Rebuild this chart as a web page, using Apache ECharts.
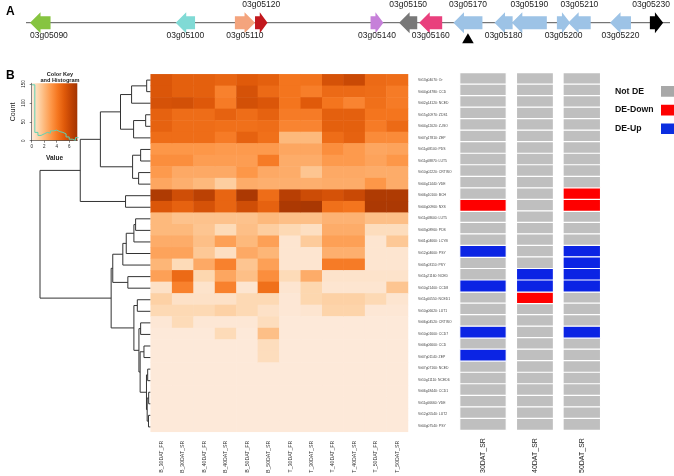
<!DOCTYPE html>
<html><head><meta charset="utf-8">
<script src="https://cdn.jsdelivr.net/npm/echarts@6/dist/echarts.min.js"></script>
<style>html,body{margin:0;padding:0;background:#fff}#c{width:674px;height:476px}</style>
</head><body><div id="c"></div>
<script>
// ---------- Panel A: gene map ----------
const geneNames  = ['03g05090','03g05100','03g05110','03g05120','03g05140','03g05150','03g05160','03g05170','03g05180','03g05190','03g05200','03g05210','03g05220','03g05230'];
const geneStart  = [1.0, 37.2, 51.9, 56.9, 85.6, 92.7, 97.7, 106.2, 116.4, 120.7, 131.9, 134.7, 145.1, 155.0];
const geneEnd    = [6.1, 42.0, 56.9, 60.0, 88.8, 97.2, 103.4, 113.4, 120.9, 129.4, 135.2, 140.3, 150.3, 158.3];
const geneStrand = [-1,-1, 1, 1, 1,-1,-1,-1,-1,-1, 1,-1,-1, 1];
const geneLabelSide = [-1,-1,-1, 1,-1, 1,-1, 1,-1, 1,-1, 1,-1, 1];
const geneMarker = [0,0,0,0,0,0,0,1,0,0,0,0,0,0];
const geneColors = ['#86c440','#80dad5','#f4a47d','#c2181d','#c680d9','#787878','#e9407d','#9dc3e6','#9dc3e6','#9dc3e6','#9dc3e6','#9dc3e6','#9dc3e6','#000000'];
const regionLength = 160;

// ---------- Panel B: heatmap ----------
const rowIds = ['Vit13g04070','Vit04g04780','Vit02g14120','Vit15g10970','Vit04g12020','Vit07g17810','Vit11g08100','Vit11g08870','Vit10g02220','Vit04g11440','Vit06g10100','Vit04g00960','Vit11g08600','Vit03g08960','Vit01g04660','Vit12g04600','Vit05g03110','Vit11g21160','Vit10g21400','Vit11g00550','Vit10g06620','Vit06g04520','Vit10g01600','Vit06g06600','Vit07g01140','Vit07g07160','Vit10g11110','Vit06g18440','Vit11g06660','Vit12g05540','Vit04g07540'];
const rowGenes = ['Or','CCD','NCED','ZDS1','Z-ISO','ZEP','PDS','LUT5','CRTISO','VDE','BCH','NXS','LUT5','PDS','LCYB','PSY','PSY','NCED','CCD8','NCED1','LUT1','CRTISO','CCD7','CCD','ZEP','NCED','NCED6','CCD1','VDE','LUT2','PSY'];
const colLabels = ['B_30DAT_FR','B_30DAT_SR','B_40DAT_FR','B_40DAT_SR','B_50DAT_FR','B_50DAT_SR','T_30DAT_FR','T_30DAT_SR','T_40DAT_FR','T_40DAT_SR','T_50DAT_FR','T_50DAT_SR'];

const v_B_30DAT_FR = [5.4,5.4,5.6,4.9,4.9,4.5,3.1,3.4,3.0,2.6,6.9,5.4,2.0,2.0,2.4,2.7,2.1,2.8,0.5,1.2,0.9,0.2,0.1,0.1,0.1,0.1,0.1,0.1,0.1,0.1,0.1];
const v_B_30DAT_SR = [5.0,5.0,5.7,4.5,4.5,4.5,3.1,3.4,2.5,2.3,5.8,4.9,1.7,2.0,2.4,2.7,0.8,4.6,3.8,0.5,0.9,0.8,0.1,0.1,0.1,0.1,0.1,0.1,0.1,0.1,0.1];
const v_B_40DAT_FR = [5.0,5.0,5.3,4.5,4.5,4.5,3.1,2.9,2.5,2.0,6.5,5.6,1.7,1.6,1.8,1.5,2.5,1.0,0.4,0.5,0.9,0.2,0.1,0.1,0.1,0.1,0.1,0.1,0.1,0.1,0.1];
const v_B_40DAT_SR = [4.8,3.8,4.0,4.9,4.4,4.0,3.0,2.9,2.5,1.3,4.8,4.8,1.7,0.8,2.8,0.6,3.8,2.6,3.8,0.5,1.2,0.2,0.8,0.1,0.1,0.1,0.1,0.1,0.1,0.1,0.1];
const v_B_50DAT_FR = [5.2,5.6,5.7,4.5,4.4,4.9,3.0,2.9,3.1,2.4,7.0,5.8,1.7,1.8,2.0,2.5,1.6,1.8,0.3,0.9,0.9,0.2,0.1,0.1,0.1,0.1,0.1,0.1,0.1,0.1,0.1];
const v_B_50DAT_SR = [5.0,4.6,5.4,4.9,4.5,4.4,3.0,4.0,2.5,2.3,4.5,4.9,2.0,1.3,2.8,2.1,2.8,3.4,4.4,0.9,0.5,0.7,1.8,0.7,0.7,0.1,0.1,0.1,0.1,0.1,0.1];
const v_T_30DAT_FR = [4.2,4.2,4.2,4.0,3.7,2.0,2.6,2.4,2.4,2.3,6.6,7.0,1.8,0.9,0.3,0.3,0.3,0.8,0.3,0.2,0.2,0.1,0.1,0.1,0.1,0.1,0.1,0.1,0.1,0.1,0.1];
const v_T_30DAT_SR = [4.3,3.9,5.2,4.0,3.7,2.0,2.6,2.4,1.6,2.3,5.9,7.1,1.8,0.6,1.4,0.3,0.3,2.4,1.0,1.0,0.3,0.1,0.1,0.1,0.1,0.1,0.1,0.1,0.1,0.1,0.1];
const v_T_40DAT_FR = [5.6,4.6,4.2,5.0,5.0,4.5,3.4,3.0,2.5,2.4,5.6,4.4,2.2,2.4,2.8,2.3,4.0,0.4,0.3,1.2,1.1,0.1,0.1,0.1,0.1,0.1,0.1,0.1,0.1,0.1,0.1];
const v_T_40DAT_SR = [6.0,4.6,3.7,5.0,5.0,4.9,3.0,3.0,2.5,2.4,6.0,4.2,2.2,2.4,2.8,2.3,4.0,0.4,0.3,1.2,1.1,0.1,0.1,0.1,0.1,0.1,0.1,0.1,0.1,0.1,0.1];
const v_T_50DAT_FR = [4.6,4.5,4.4,4.2,4.0,3.5,2.6,2.7,2.4,3.1,6.9,7.0,1.8,0.7,0.3,0.3,0.3,0.4,0.3,0.9,0.2,0.1,0.1,0.1,0.1,0.1,0.1,0.1,0.1,0.1,0.1];
const v_T_50DAT_SR = [4.5,4.0,4.0,4.2,4.6,3.5,2.7,3.1,2.4,2.4,6.9,7.0,1.8,0.7,1.5,0.3,0.3,0.4,1.6,0.3,0.2,0.1,0.1,0.1,0.1,0.1,0.1,0.1,0.1,0.1,0.1];
const heatColumns = [v_B_30DAT_FR,v_B_30DAT_SR,v_B_40DAT_FR,v_B_40DAT_SR,v_B_50DAT_FR,v_B_50DAT_SR,v_T_30DAT_FR,v_T_30DAT_SR,v_T_40DAT_FR,v_T_40DAT_SR,v_T_50DAT_FR,v_T_50DAT_SR];
const heatMin = 0, heatMax = 7.3;
const heatColors = ['#fdebde','#fdd6ad','#fdb678','#fd9647','#f5761f','#e05a0a','#c24404','#a33503'];

// Row dendrogram (hclust-style merges: negative = leaf row, positive = earlier merge; height)
const dendroMerge = [
  [-1,-2,4],[1,-3,19],[-4,-5,5],[3,-6,17],[2,4,30],
  [-7,-8,10],[-9,-10,12],[6,7,18],[5,8,50],[-11,-12,25],[9,10,70],
  [-13,-14,15],[12,-15,16.7],[13,-16,24.3],[14,-17,27.7],[-18,-19,22.7],[15,16,37.7],
  [-20,-21,13.3],[-22,-23,10],[-24,-25,6.7],[-26,-27,3],[-28,-29,2],[-30,-31,2.2],
  [22,23,3.5],[21,24,4.2],[20,25,10.5],[19,26,11.7],[18,27,16.7],[17,28,39.3],[11,29,110]
];
const dendroMaxHeight = 110;

// Color key histogram
const histBreaks = [0,0.5,1,1.5,2,2.5,3,3.5,4,4.5,5,5.5,6,6.5,7,7.5];
const histCounts = [148,22,14,18,22,20,26,28,24,22,18,10,4,1,8];

// DE panel
const deCols = ['30DAT_SR','40DAT_SR','50DAT_SR'];
const de30 = [0,0,0,0,0,0,0,0,0,0,0,-1,0,0,0,1,0,0,1,0,0,0,1,0,1,0,0,0,0,0,0];
const de40 = [0,0,0,0,0,0,0,0,0,0,0,0,0,0,0,0,0,1,1,-1,0,0,0,0,0,0,0,0,0,0,0];
const de50 = [0,0,0,0,0,0,0,0,0,0,-1,-1,0,0,0,1,1,1,1,0,0,0,1,0,0,0,0,0,0,0,0];
const deClasses = [0,-1,1];
const deNames = ['Not DE','DE-Down','DE-Up'];
const deColors = ['#bfbfbf','#fe0000','#0b24e4'];
const deLegendColors = ['#a8a8a8','#fe0000','#0b2ee0'];

// ---------- build ----------
const FONT = 'Liberation Sans, Arial, Helvetica, sans-serif';
const rowLabels = rowIds.map((id,i)=>id+': '+rowGenes[i]);

const geneData = geneNames.map((n,i)=>({name:n, value:[geneStart[i],geneEnd[i],geneStrand[i],geneLabelSide[i],geneMarker[i]]}));

const heatData = [];
heatColumns.forEach((col,c)=>col.forEach((v,r)=>heatData.push([c,r,v])));

const nodePos = [];
const dendroSegs = [];
function nodeAt(id){ return id<0 ? [0, (-id-1)+0.5] : nodePos[id-1]; }
dendroMerge.forEach(([a,b,h])=>{
  const A=nodeAt(a), B=nodeAt(b);
  dendroSegs.push({coords:[[A[0],A[1]],[h,A[1]],[h,B[1]],[B[0],B[1]]]});
  nodePos.push([h,(A[1]+B[1])/2]);
});

const histData = histBreaks.map((b,i)=>[b, histCounts[Math.min(i,histCounts.length-1)]]);

const hmTop = 74.3, hmH = 358.4;
const deTop = 72.8, deH = 360.6;
const deGrids = [[460,46],[516.7,36.5],[563.3,37]];

const grids = [
  {left:26, width:644, top:12, height:21.4},
  {left:31.7, width:45.6, top:83.3, height:57.4, show:true, borderWidth:0,
   backgroundColor:{type:'linear',x:0,y:0,x2:1,y2:0,colorStops:heatColors.map((c,i)=>({offset:i/(heatColors.length-1),color:c}))}},
  {left:40, width:110.7, top:hmTop, height:hmH},
  {left:150.7, width:257.3, top:hmTop, height:hmH}
];
deGrids.forEach(g=>grids.push({left:g[0], width:g[1], top:deTop, height:deH}));

const xAxes = [
  {gridIndex:0, type:'value', min:0, max:regionLength, show:false},
  {gridIndex:1, type:'value', min:heatMin, max:heatMax, interval:2, name:'Value', nameLocation:'middle', nameGap:14,
   nameTextStyle:{fontSize:6.5, fontWeight:'bold', color:'#222', fontFamily:FONT},
   axisLine:{lineStyle:{color:'#333', width:0.6}}, axisTick:{length:2, lineStyle:{color:'#333', width:0.6}},
   axisLabel:{fontSize:4.5, margin:4, color:'#222', fontFamily:FONT, showMaxLabel:false}, splitLine:{show:false}},
  {gridIndex:2, type:'value', min:0, max:dendroMaxHeight, inverse:true, show:false},
  {gridIndex:3, type:'category', data:colLabels, axisLine:{show:false}, axisTick:{show:false},
   axisLabel:{rotate:90, fontSize:5.2, margin:9, color:'#333', interval:0, fontFamily:FONT}}
];
deCols.forEach((c,i)=>xAxes.push({gridIndex:4+i, type:'category', data:[c], axisLine:{show:false}, axisTick:{show:false},
  axisLabel:{rotate:90, fontSize:7, margin:8, color:'#222', fontFamily:FONT}}));

const yAxes = [
  {gridIndex:0, type:'value', min:-1, max:1, show:false},
  {gridIndex:1, type:'value', min:0, max:152, interval:50, name:'Count', nameLocation:'middle', nameRotate:90, nameGap:15,
   nameTextStyle:{fontSize:7, color:'#222', fontFamily:FONT},
   axisLine:{show:true, lineStyle:{color:'#333', width:0.6}}, axisTick:{show:true, length:2, lineStyle:{color:'#333', width:0.6}},
   axisLabel:{rotate:90, fontSize:4.5, margin:5, color:'#222', fontFamily:FONT, showMaxLabel:false}, splitLine:{show:false}},
  {gridIndex:2, type:'value', min:0, max:rowLabels.length, inverse:true, show:false},
  {gridIndex:3, type:'category', data:rowLabels, inverse:true, position:'right', axisLine:{show:false}, axisTick:{show:false},
   axisLabel:{fontSize:3.4, margin:10, color:'#444', interval:0, fontFamily:FONT}}
];
deCols.forEach((c,i)=>yAxes.push({gridIndex:4+i, type:'category', data:rowGenes.map((g,k)=>g+'#'+k), inverse:true,
  axisLine:{show:false}, axisTick:{show:false}, axisLabel:{show:false}}));

const series = [
  {type:'line', xAxisIndex:0, yAxisIndex:0, data:[[0,0],[regionLength,0]], symbol:'none', silent:true,
   lineStyle:{color:'#555', width:1}, z:1},
  {type:'custom', xAxisIndex:0, yAxisIndex:0, data:geneData, silent:true, z:2, encode:{x:[0,1]},
   renderItem:function(params, api){
     const idx = params.dataIndex;
     const s = api.coord([api.value(0),0]), e = api.coord([api.value(1),0]);
     const strand = api.value(2), side = api.value(3), mark = api.value(4);
     const cy = s[1], x0 = s[0], x1 = e[0], len = x1-x0;
     const head = Math.min(10.5, len*0.62), hh = 10.5, sh = 6.5;
     let pts;
     if (strand > 0) pts = [[x0,cy-sh],[x1-head,cy-sh],[x1-head,cy-hh],[x1,cy],[x1-head,cy+hh],[x1-head,cy+sh],[x0,cy+sh]];
     else pts = [[x1,cy-sh],[x0+head,cy-sh],[x0+head,cy-hh],[x0,cy],[x0+head,cy+hh],[x0+head,cy+sh],[x1,cy+sh]];
     const children = [{type:'polygon', shape:{points:pts}, style:{fill:geneColors[idx]}}];
     let lx = (x0+x1)/2, align = 'center';
     if (lx - 19 < params.coordSys.x) { lx = x0; align = 'left'; }
     if (lx + 19 > params.coordSys.x + params.coordSys.width) { lx = params.coordSys.x + params.coordSys.width; align = 'right'; }
     children.push({type:'text', style:{text:geneNames[idx], x:lx, y: side>0 ? cy-17.7 : cy+12.9,
       align:align, verticalAlign:'middle', fontSize:8.5, fontFamily:FONT, fill:'#222'}});
     if (mark) {
       const cx = (x0+x1)/2;
       children.push({type:'polygon', shape:{points:[[cx-5.8,cy+20.6],[cx+5.8,cy+20.6],[cx,cy+10.6]]}, style:{fill:'#000'}});
     }
     return {type:'group', children:children};
   }},
  {type:'line', xAxisIndex:1, yAxisIndex:1, data:histData, step:'end', symbol:'none', silent:true,
   lineStyle:{color:'#5fd2b4', width:1}},
  {type:'lines', coordinateSystem:'cartesian2d', xAxisIndex:2, yAxisIndex:2, polyline:true, data:dendroSegs, silent:true,
   lineStyle:{color:'#333', width:1, opacity:1}},
  {type:'heatmap', xAxisIndex:3, yAxisIndex:3, data:heatData, silent:true}
];
const deData = [de30, de40, de50];
deData.forEach((col,c)=>{
  deClasses.forEach((cls,k)=>{
    const d = [];
    col.forEach((v,r)=>{ if (v===cls) d.push([0,r,v]); });
    series.push({type:'heatmap', name:deNames[k], xAxisIndex:4+c, yAxisIndex:4+c, data:d, silent:true,
      itemStyle:{color:deColors[k], borderColor:'#fff', borderWidth:1.2}});
  });
});

const option = {
  animation:false,
  textStyle:{fontFamily:FONT},
  title:[
    {text:'A', left:1, top:1, textStyle:{fontSize:12, fontWeight:'bold', color:'#000', fontFamily:FONT}},
    {text:'B', left:1, top:64.5, textStyle:{fontSize:12, fontWeight:'bold', color:'#000', fontFamily:FONT}},
    {text:'Color Key\nand Histogram', left:55, textAlign:'center', top:66.5,
     textStyle:{fontSize:5.6, lineHeight:5.8, fontWeight:'bold', color:'#222', fontFamily:FONT}}
  ],
  grid:grids, xAxis:xAxes, yAxis:yAxes,
  visualMap:{show:false, type:'continuous', min:heatMin, max:heatMax, seriesIndex:4, inRange:{color:heatColors}},
  legend:{data:deNames.map((n,i)=>({name:n, itemStyle:{color:deLegendColors[i]}})), orient:'vertical', left:615, top:84, padding:0,
    align:'right', icon:'rect', itemWidth:15, itemHeight:12.7, itemGap:4, selectedMode:false,
    formatter:'{t|{name}}', textStyle:{rich:{t:{width:40, align:'left', fontSize:8.7, fontWeight:'bold', color:'#111', fontFamily:FONT}}}},
  series:series
};
const chart = echarts.init(document.getElementById('c'), null, {renderer:'canvas'});
chart.setOption(option);
</script></body></html>
